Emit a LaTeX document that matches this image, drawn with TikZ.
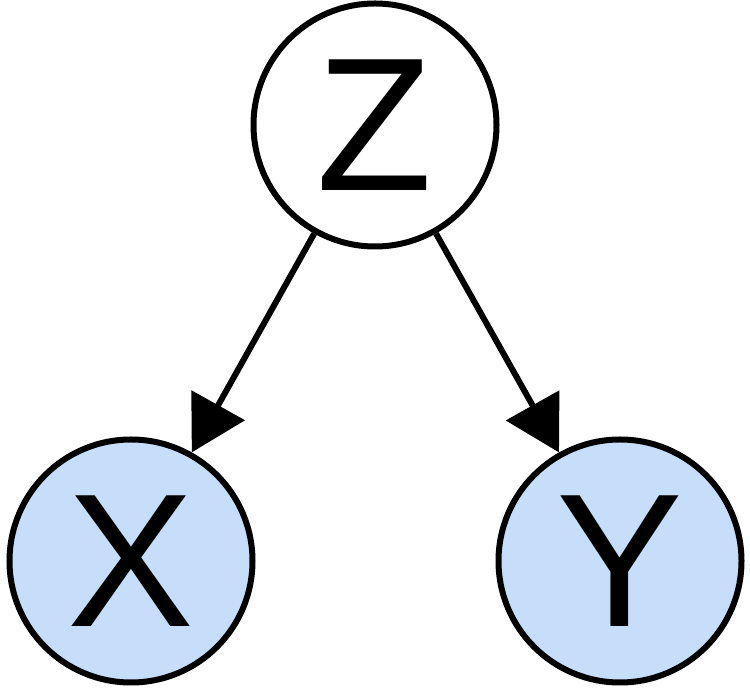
\documentclass[tikz,border=0pt]{standalone}
\usepackage{fontspec}
\setmainfont{Liberation Sans}
\usetikzlibrary{arrows.meta}
\definecolor{obsblue}{HTML}{C6DEFA}
\begin{document}
\begin{tikzpicture}[x=1pt, y=1pt,
    var/.style={circle, draw, line width=6pt, minimum size=243pt, inner sep=0pt,
        font=\fontsize{190}{190}\selectfont},
    observed/.style={var, fill=obsblue},
    latent/.style={var, fill=white},
    arrowstyle/.style={draw, line width=6pt, -{Triangle[length=54pt, width=60pt]}}
]
\useasboundingbox (0,0) rectangle (750,696);
\node (Z) [latent] at (375,571) {Z};
\node (X) [observed] at (131,135) {X};
\node (Y) [observed] at (620,135) {Y};

\draw[arrowstyle] (Z) -- (X);
\draw[arrowstyle] (Z) -- (Y);
\end{tikzpicture}
\end{document}
